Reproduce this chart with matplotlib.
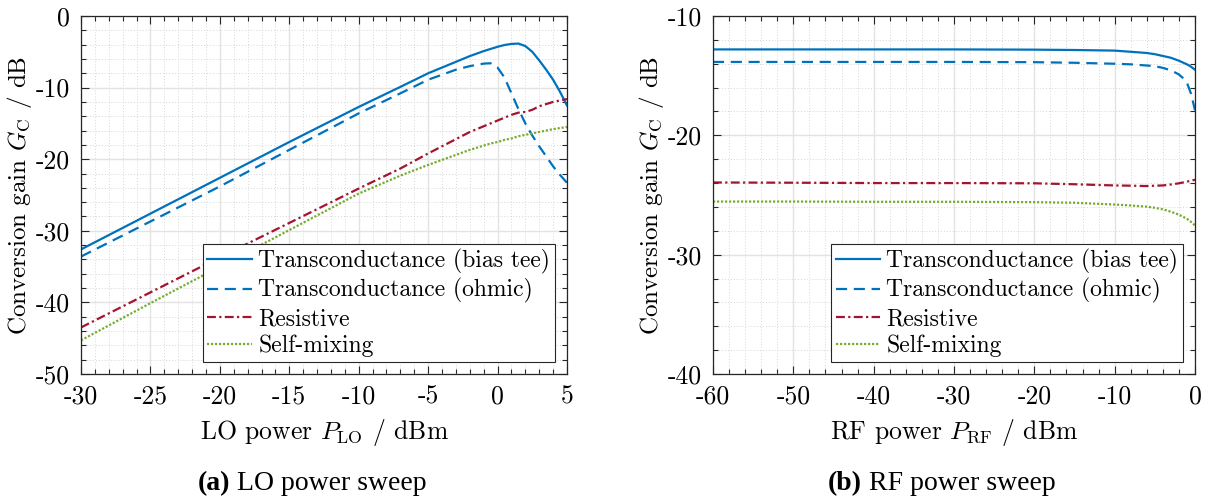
import matplotlib
matplotlib.use("Agg")
import matplotlib.pyplot as plt
from matplotlib.ticker import MultipleLocator

plt.rcParams["font.family"] = "cmr10"
plt.rcParams["mathtext.fontset"] = "cm"
plt.rcParams["axes.unicode_minus"] = False
plt.rcParams["axes.formatter.use_mathtext"] = False

# LO power sweep (panel a)
p_lo = [-30, -25, -20, -15, -10, -7, -5, -3, -2, -1, -0.5, 0, 0.5, 1, 1.5, 2, 2.5, 3, 3.5, 4, 4.5, 5]
lo_bias_tee = [-32.6, -27.6, -22.6, -17.6, -12.7, -9.9, -8.0, -6.4, -5.6, -4.9, -4.6, -4.3,
               -4.05, -3.9, -3.85, -4.2, -5.0, -6.2, -7.5, -8.9, -10.6, -12.5]
lo_ohmic = [-33.6, -28.7, -23.8, -18.7, -13.6, -10.8, -8.9, -7.5, -7.0, -6.65, -6.6, -7.2,
            -8.6, -10.8, -13.0, -15.0, -16.7, -18.2, -19.6, -21.0, -22.2, -23.3]
lo_resistive = [-43.5, -38.6, -33.7, -28.9, -24.1, -21.3, -19.2, -17.2, -16.2, -15.4, -15.0, -14.6,
                -14.2, -13.8, -13.5, -13.4, -13.1, -12.6, -12.3, -12.0, -11.8, -11.6]
lo_self_mixing = [-45.3, -40.1, -35.0, -29.9, -24.8, -22.3, -20.8, -19.4, -18.7, -18.1, -17.8, -17.6,
                  -17.3, -17.1, -16.8, -16.6, -16.4, -16.2, -16.0, -15.8, -15.65, -15.5]

# RF power sweep (panel b)
p_rf = [-60, -50, -40, -30, -20, -15, -10, -8, -6, -5, -4, -3, -2, -1.5, -1, -0.5, 0]
rf_bias_tee = [-12.8, -12.8, -12.8, -12.8, -12.82, -12.85, -12.9, -13.0, -13.1, -13.2, -13.35,
               -13.5, -13.75, -13.9, -14.05, -14.25, -14.5]
rf_ohmic = [-13.85, -13.85, -13.85, -13.85, -13.87, -13.92, -14.0, -14.05, -14.15, -14.2, -14.35,
            -14.55, -14.9, -15.2, -15.6, -16.5, -17.9]
rf_resistive = [-23.95, -23.97, -24.0, -24.0, -24.02, -24.1, -24.2, -24.22, -24.25, -24.22, -24.2,
                -24.12, -24.02, -23.95, -23.88, -23.8, -23.72]
rf_self_mixing = [-25.55, -25.55, -25.57, -25.57, -25.6, -25.65, -25.8, -25.88, -25.98, -26.07, -26.2,
                  -26.4, -26.65, -26.82, -27.0, -27.25, -27.55]

labels = ["Transconductance (bias tee)", "Transconductance (ohmic)", "Resistive", "Self-mixing"]
colors = ["#0072BD", "#0072BD", "#A2142F", "#77AC30"]
styles = ["-", (0, (5, 3)), (0, (4, 1.5, 1, 1.5)), (0, (1, 0.8))]

fig = plt.figure(figsize=(12.08, 5.0), dpi=100)
ax_a = fig.add_axes([81 / 1208, 1 - 374 / 500, 486 / 1208, 358 / 500])
ax_b = fig.add_axes([713 / 1208, 1 - 374 / 500, 482 / 1208, 358 / 500])


def style_axes(ax, xminor, yminor):
    ax.xaxis.set_minor_locator(MultipleLocator(xminor))
    ax.yaxis.set_minor_locator(MultipleLocator(yminor))
    ax.grid(which="major", color="#e3e3e3", lw=1.0)
    ax.grid(which="minor", color="#d6d6d6", lw=0.7, ls=(0, (1, 2)))
    ax.set_axisbelow(True)
    ax.tick_params(which="both", direction="in", top=True, right=True, labelsize=18.5,
                   color="#262626", pad=8)
    ax.tick_params(which="major", length=6, width=0.8)
    ax.tick_params(which="minor", length=3.5, width=0.8)
    for s in ax.spines.values():
        s.set_color("#262626")
        s.set_linewidth(0.9)


for ax, x, series in [(ax_a, p_lo, [lo_bias_tee, lo_ohmic, lo_resistive, lo_self_mixing]),
                      (ax_b, p_rf, [rf_bias_tee, rf_ohmic, rf_resistive, rf_self_mixing])]:
    for y, lab, c, ls in zip(series, labels, colors, styles):
        ax.plot(x, y, color=c, ls=ls, lw=1.6, label=lab)
    leg = ax.legend(loc="lower right", bbox_to_anchor=(0.975, 0.033), fontsize=17,
                    fancybox=False, framealpha=1, edgecolor="#262626", handlelength=1.9,
                    handletextpad=0.25, labelspacing=0.2, borderpad=0.2, borderaxespad=0)
    leg.get_frame().set_linewidth(0.8)
    ax.set_ylabel(r"Conversion gain $G_\mathrm{C}$ / dB", fontsize=18, labelpad=1.5)

ax_a.set_xlim(-30, 5)
ax_a.set_ylim(-50, 0)
ax_a.xaxis.set_major_locator(MultipleLocator(5))
ax_a.yaxis.set_major_locator(MultipleLocator(10))
style_axes(ax_a, 1, 2)
ax_a.set_xlabel(r"LO power $P_\mathrm{LO}$ / dBm", fontsize=18.5, labelpad=6)

ax_b.set_xlim(-60, 0)
ax_b.set_ylim(-40, -10)
ax_b.xaxis.set_major_locator(MultipleLocator(10))
ax_b.yaxis.set_major_locator(MultipleLocator(10))
style_axes(ax_b, 2, 2)
ax_b.set_xlabel(r"RF power $P_\mathrm{RF}$ / dBm", fontsize=18.5, labelpad=6)

# captions below each panel: bold tag followed by plain text, centred as a whole
renderer = fig.canvas.get_renderer()
for ax, tag, txt in [(ax_a, "(a)", " LO power sweep"), (ax_b, "(b)", " RF power sweep")]:
    bb = ax.get_position()
    yc = 1 - 484 / 500
    t1 = fig.text(0, yc, tag, fontsize=20, fontweight="bold",
                  family="Liberation Serif", ha="left", va="center")
    t2 = fig.text(0, yc, txt, fontsize=20, family="Liberation Serif",
                  ha="left", va="center")
    w1 = t1.get_window_extent(renderer).width / fig.bbox.width
    w2 = t2.get_window_extent(renderer).width / fig.bbox.width
    x0 = (bb.x0 + bb.x1) / 2 - 0.01 - (w1 + w2) / 2
    t1.set_x(x0)
    t2.set_x(x0 + w1)

fig.savefig("out.png", dpi=100)
